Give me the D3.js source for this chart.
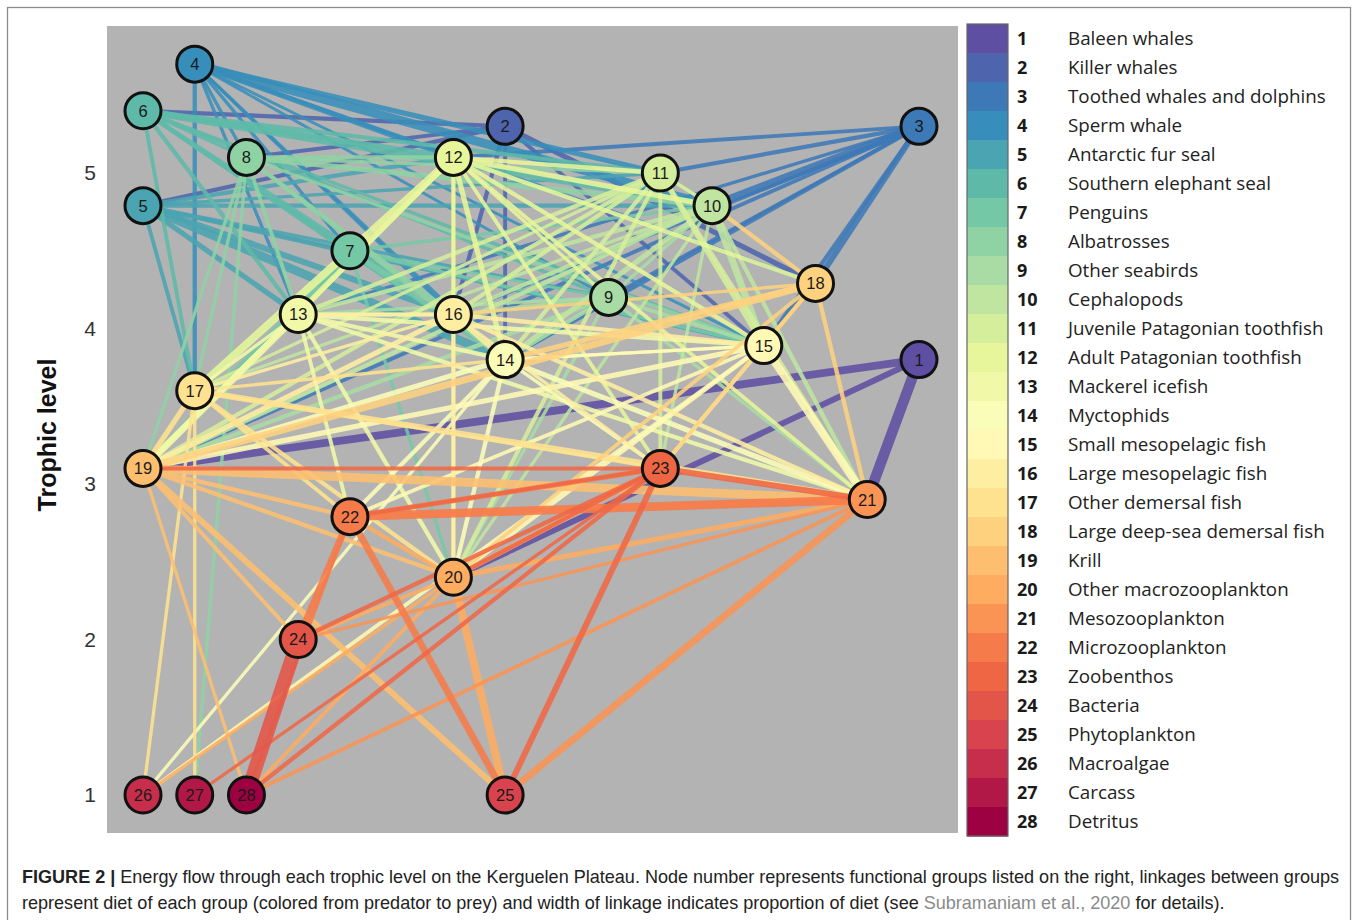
<!DOCTYPE html>
<html><head><meta charset="utf-8">
<script src="https://cdn.jsdelivr.net/npm/d3@7"></script>
<style>body{margin:0;background:#fff}</style>
</head><body>
<svg id="chart" width="1358" height="920"></svg>
<script>
// ---------- DATA ----------
const groupIds = d3.range(1, 29);
const groupNames = ["Baleen whales","Killer whales","Toothed whales and dolphins","Sperm whale","Antarctic fur seal","Southern elephant seal","Penguins","Albatrosses","Other seabirds","Cephalopods","Juvenile Patagonian toothfish","Adult Patagonian toothfish","Mackerel icefish","Myctophids","Small mesopelagic fish","Large mesopelagic fish","Other demersal fish","Large deep-sea demersal fish","Krill","Other macrozooplankton","Mesozooplankton","Microzooplankton","Zoobenthos","Bacteria","Phytoplankton","Macroalgae","Carcass","Detritus"];
// trophic level of each group (y position)
const trophicLevels = [3.80,5.30,5.30,5.70,4.79,5.40,4.50,5.10,4.20,4.79,5.00,5.10,4.09,3.80,3.89,4.09,3.60,4.29,3.10,2.40,2.90,2.79,3.10,2.00,1,1,1,1];
// horizontal slot of each group
const xSlots = [15,7,15,1,0,0,4,2,9,11,10,6,3,7,12,6,1,13,0,6,14,4,10,3,7,0,1,2];
const yTicks = [1,2,3,4,5];
// [predator, prey, proportion of diet]
const links = [
 [1,19,0.47],[1,20,0.33],[1,21,0.67],
 [2,5,0.2],[2,6,0.2],[2,8,0.17],[2,16,0.2],[2,14,0.17],[2,18,0.27],[2,15,0.17],
 [3,10,0.47],[3,11,0.2],[3,12,0.17],[3,14,0.2],[3,15,0.2],[3,16,0.17],[3,18,0.33],[3,9,0.13],[3,13,0.13],[3,19,0.17],
 [4,10,0.53],[4,11,0.27],[4,12,0.27],[4,17,0.2],[4,8,0.13],[4,13,0.13],[4,7,0.13],[4,16,0.13],[4,14,0.13],[4,18,0.17],[4,9,0.1],[4,15,0.1],
 [5,14,0.53],[5,16,0.33],[5,13,0.27],[5,10,0.2],[5,11,0.13],[5,12,0.2],[5,15,0.2],[5,9,0.13],[5,7,0.13],[5,17,0.17],
 [6,10,0.4],[6,12,0.27],[6,11,0.2],[6,13,0.2],[6,14,0.2],[6,16,0.2],[6,15,0.13],[6,17,0.17],[6,8,0.13],[6,9,0.13],[6,7,0.13],
 [7,19,0.27],[7,14,0.2],[7,13,0.2],[7,16,0.17],[7,15,0.13],[7,17,0.13],[7,20,0.13],[7,10,0.13],[7,9,0.1],
 [8,10,0.27],[8,12,0.2],[8,13,0.17],[8,14,0.2],[8,16,0.17],[8,19,0.13],[8,27,0.13],[8,15,0.13],[8,17,0.13],[8,11,0.13],
 [9,14,0.2],[9,15,0.17],[9,19,0.2],[9,20,0.13],[9,21,0.13],[9,16,0.13],[9,10,0.13],[9,13,0.13],
 [10,14,0.27],[10,15,0.4],[10,16,0.2],[10,19,0.2],[10,21,0.2],[10,13,0.2],[10,17,0.13],[10,20,0.13],[10,23,0.13],[10,11,0.13],
 [11,14,0.2],[11,15,0.27],[11,16,0.2],[11,19,0.2],[11,20,0.2],[11,21,0.2],[11,23,0.17],[11,13,0.2],[11,17,0.13],[11,10,0.13],
 [12,16,0.2],[12,14,0.27],[12,15,0.2],[12,13,0.2],[12,17,0.47],[12,19,0.27],[12,11,0.2],[12,10,0.27],[12,9,0.13],[12,18,0.2],[12,21,0.17],[12,23,0.17],[12,20,0.13],
 [13,19,0.4],[13,14,0.2],[13,15,0.2],[13,16,0.17],[13,20,0.2],[13,21,0.2],[13,22,0.17],[13,17,0.13],
 [14,19,0.27],[14,21,0.27],[14,20,0.2],[14,22,0.2],[14,23,0.13],[14,15,0.13],[14,26,0.13],
 [15,21,0.47],[15,19,0.27],[15,20,0.2],[15,22,0.17],[15,23,0.17],[15,14,0.13],[15,26,0.17],
 [16,14,0.27],[16,15,0.2],[16,19,0.27],[16,20,0.2],[16,21,0.2],[16,13,0.13],[16,23,0.13],[16,17,0.13],
 [17,19,0.27],[17,21,0.33],[17,20,0.2],[17,22,0.17],[17,14,0.13],[17,23,0.13],[17,26,0.13],[17,27,0.13],
 [18,19,0.4],[18,14,0.27],[18,10,0.2],[18,21,0.2],[18,15,0.17],[18,20,0.17],[18,23,0.17],[18,16,0.13],
 [19,21,0.53],[19,22,0.2],[19,25,0.33],[19,20,0.2],[19,24,0.17],[19,28,0.13],
 [20,25,0.47],[20,21,0.27],[20,23,0.27],[20,22,0.2],[20,24,0.17],[20,28,0.17],[20,26,0.13],
 [21,25,0.4],[21,22,0.2],[21,28,0.17],[21,24,0.13],
 [22,21,0.53],[22,24,0.4],[22,25,0.4],[22,23,0.27],[22,28,0.13],
 [23,21,0.33],[23,25,0.33],[23,28,0.2],[23,24,0.2],[23,19,0.17],[23,27,0.13],[23,22,0.17],[23,20,0.2],
 [24,28,0.93]
];
const captionBold = "FIGURE 2 |";
const captionLine1 = " Energy flow through each trophic level on the Kerguelen Plateau. Node number represents functional groups listed on the right, linkages between groups";
const captionLine2a = "represent diet of each group (colored from predator to prey) and width of linkage indicates proportion of diet (see ";
const captionRef = "Subramaniam et al., 2020";
const captionLine2b = " for details).";

// ---------- CHART ----------
const svg = d3.select("#chart");
const spectral = ["#9E0142","#D53E4F","#F46D43","#FDAE61","#FEE08B","#FFFFBF","#E6F598","#ABDDA4","#66C2A5","#3288BD","#5E4FA2"].reverse();
const ramp = d3.scaleLinear().domain(d3.range(11).map(i => i / 10)).range(spectral).interpolate(d3.interpolateRgb);
const color = d3.scaleOrdinal().domain(groupIds).range(groupIds.map((d, i) => ramp(i / 27)));

const x = d3.scaleLinear().domain([0, 15]).range([143, 919]);
const y = d3.scaleLinear().domain([1, 5]).range([795, 173]);
const w = d3.scaleLinear().domain([0, 1]).range([1.6, 15]);

// outer frame
svg.append("rect").attr("x", 7.5).attr("y", 7.5).attr("width", 1343).attr("height", 940)
  .attr("fill", "#fff").attr("stroke", "#8c8c8c").attr("stroke-width", 1.3);

// panel
svg.append("rect").attr("x", 107).attr("y", 26).attr("width", 851).attr("height", 807).attr("fill", "#b3b3b3");

// y axis
const yAxis = svg.append("g").attr("transform", "translate(107,0)")
  .call(d3.axisLeft(y).tickValues(yTicks).tickSize(0).tickPadding(11).tickFormat(d3.format("d")));
yAxis.select(".domain").remove();
yAxis.selectAll("text").attr("font-family", "Liberation Sans, Arial, sans-serif").attr("font-size", 21).attr("fill", "#333");

svg.append("text").attr("transform", "translate(56,435) rotate(-90)").attr("text-anchor", "middle")
  .attr("font-family", "Liberation Sans, Arial, sans-serif").attr("font-weight", "bold").attr("font-size", 25)
  .attr("fill", "#111").text("Trophic level");

const node = id => ({ x: x(xSlots[id - 1]), y: y(trophicLevels[id - 1]) });

// links
svg.append("g").selectAll("line").data(links).join("line")
  .attr("x1", d => node(d[0]).x).attr("y1", d => node(d[0]).y)
  .attr("x2", d => node(d[1]).x).attr("y2", d => node(d[1]).y)
  .attr("stroke", d => color(d[0])).attr("stroke-width", d => w(d[2]))
  .attr("stroke-opacity", 0.88);

// nodes
const ng = svg.append("g").selectAll("g").data(groupIds).join("g")
  .attr("transform", d => `translate(${node(d).x},${node(d).y})`);
ng.append("circle").attr("r", 18).attr("fill", d => color(d)).attr("stroke", "#111").attr("stroke-width", 3);
ng.append("text").attr("text-anchor", "middle").attr("dy", "0.36em")
  .attr("font-family", "Liberation Sans, Arial, sans-serif").attr("font-size", 16.5).attr("fill", "#1a1a1a")
  .text(d => d);

// legend
const band = d3.scaleBand().domain(groupIds).range([24, 836]);
const lg = svg.append("g");
lg.selectAll("rect").data(groupIds).join("rect")
  .attr("x", 967).attr("y", d => band(d)).attr("width", 41).attr("height", band.bandwidth() + 0.5)
  .attr("fill", d => color(d));
lg.append("rect").attr("x", 967).attr("y", 24).attr("width", 41).attr("height", 812)
  .attr("fill", "none").attr("stroke", "#666").attr("stroke-width", 1.2);
lg.selectAll("text.num").data(groupIds).join("text").attr("class", "num")
  .attr("x", 1017).attr("y", d => band(d) + band.bandwidth() / 2).attr("dy", "0.35em")
  .attr("font-family", "Open Sans, sans-serif").attr("font-weight", "bold").attr("font-size", 18).attr("fill", "#1a1a1a")
  .text(d => d);
lg.selectAll("text.name").data(groupIds).join("text").attr("class", "name")
  .attr("x", 1068).attr("y", d => band(d) + band.bandwidth() / 2).attr("dy", "0.35em")
  .attr("font-family", "Open Sans, sans-serif").attr("font-size", 18.8).attr("fill", "#222")
  .text(d => groupNames[d - 1]);

// caption (condensed by horizontal scaling)
const cap1 = svg.append("text").attr("x", 0).attr("y", 0)
  .attr("font-family", "Liberation Sans, Arial, sans-serif").attr("font-size", 18).attr("fill", "#222");
cap1.append("tspan").attr("font-weight", "bold").text(captionBold);
cap1.append("tspan").text(captionLine1);
const cap2 = svg.append("text").attr("x", 0).attr("y", 0)
  .attr("font-family", "Liberation Sans, Arial, sans-serif").attr("font-size", 18).attr("fill", "#222");
cap2.append("tspan").text(captionLine2a);
cap2.append("tspan").attr("fill", "#8a8a8a").text(captionRef);
cap2.append("tspan").text(captionLine2b);
const k = 1318 / cap1.node().getComputedTextLength();
cap1.attr("transform", `translate(22,883) scale(${k},1)`);
cap2.attr("transform", `translate(22,909) scale(${k},1)`);
</script>
</body></html>
